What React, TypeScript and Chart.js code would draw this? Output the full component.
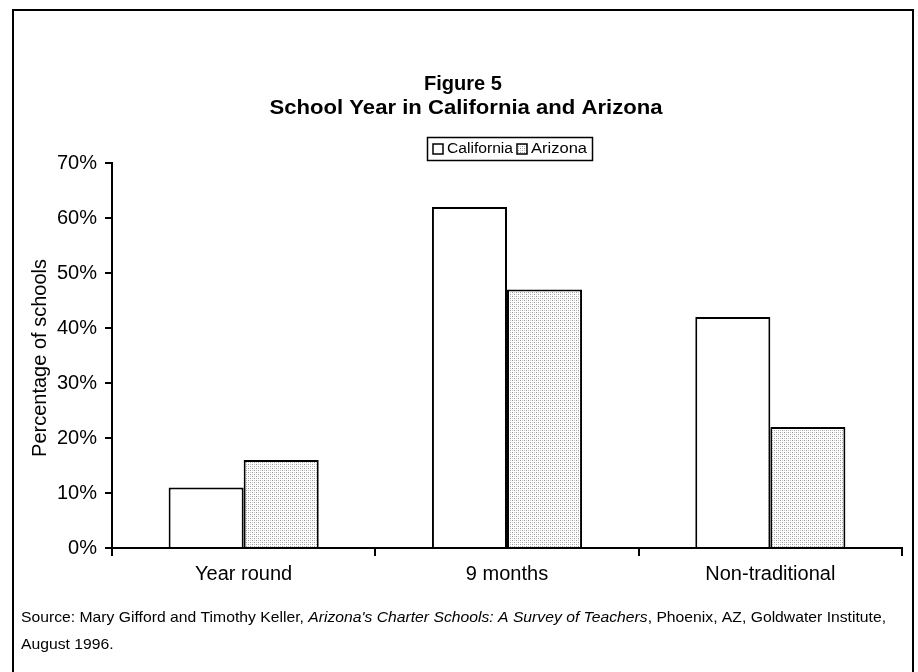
import React, { useEffect, useRef } from "react";
import { Chart, registerables } from "chart.js";

Chart.register(...registerables);

const categories = ["Year round", "9 months", "Non-traditional"];
const seriesNames = ["California", "Arizona"];
const california = [11, 62, 42];
const arizona = [16, 47, 22];
const yTicks = [0, 10, 20, 30, 40, 50, 60, 70];
const titleLines = ["Figure 5", "School Year in California and Arizona"];
const yTitle = "Percentage of schools";
const sourceParts = [
  { text: "Source: Mary Gifford and Timothy Keller, ", italic: false },
  { text: "Arizona's Charter Schools: A Survey of Teachers", italic: true },
  { text: ", Phoenix, AZ, Goldwater Institute,", italic: false },
];
const sourceLine2 = "August 1996.";

const FONT = "'Liberation Sans', Arial, sans-serif";

function makePattern(): CanvasPattern | string {
  const c = document.createElement("canvas");
  c.width = 4;
  c.height = 4;
  const g = c.getContext("2d");
  if (!g) return "#dddddd";
  g.fillStyle = "#ffffff";
  g.fillRect(0, 0, 4, 4);
  g.fillStyle = "#9a9a9a";
  g.fillRect(0, 0, 1, 1);
  g.fillRect(2, 2, 1, 1);
  g.fillStyle = "#c8c8c8";
  g.fillRect(2, 0, 1, 1);
  g.fillRect(0, 2, 1, 1);
  const p = g.createPattern(c, "repeat");
  return p || "#dddddd";
}

function fitText(ctx: CanvasRenderingContext2D, text: string, cx: number, cy: number, w: number) {
  const m = ctx.measureText(text).width;
  ctx.save();
  ctx.translate(cx, cy);
  ctx.scale(w / m, 1);
  ctx.textAlign = "center";
  ctx.fillText(text, 0, 0);
  ctx.restore();
}

export default function App() {
  const ref = useRef<HTMLCanvasElement | null>(null);

  useEffect(() => {
    const canvas = ref.current;
    if (!canvas) return;
    const azFill = makePattern();

    const decor = {
      id: "decor",
      afterDraw(chart: any) {
        const ctx = chart.ctx as CanvasRenderingContext2D;
        ctx.save();
        // border
        ctx.strokeStyle = "#000";
        ctx.lineWidth = 2;
        ctx.beginPath();
        ctx.moveTo(13, 672);
        ctx.lineTo(13, 10);
        ctx.lineTo(913, 10);
        ctx.lineTo(913, 672);
        ctx.stroke();

        // title
        ctx.fillStyle = "#000";
        ctx.textBaseline = "middle";
        ctx.font = `bold 21px ${FONT}`;
        fitText(ctx, titleLines[0], 463, 84, 78);
        fitText(ctx, titleLines[1], 466, 108, 393);

        // legend
        ctx.lineWidth = 1.5;
        ctx.strokeRect(427.5, 137.5, 165, 23);
        ctx.font = `14px ${FONT}`;
        ctx.textAlign = "left";
        const fills = ["#ffffff", azFill];
        const xs = [433, 517];
        const ws = [66, 56];
        for (let i = 0; i < seriesNames.length; i++) {
          ctx.fillStyle = fills[i] as any;
          ctx.fillRect(xs[i], 144, 10, 10);
          ctx.strokeStyle = "#000";
          ctx.lineWidth = 1.5;
          ctx.strokeRect(xs[i], 144, 10, 10);
          ctx.fillStyle = "#000";
          fitText(ctx, seriesNames[i], xs[i] + 14 + ws[i] / 2, 149.5, ws[i]);
        }

        // y title
        ctx.save();
        ctx.translate(40, 358);
        ctx.rotate(-Math.PI / 2);
        ctx.textAlign = "center";
        ctx.font = `20px ${FONT}`;
        ctx.fillText(yTitle, 0, 0);
        ctx.restore();

        // source
        ctx.textAlign = "left";
        ctx.textBaseline = "middle";
        let total = 0;
        for (const p of sourceParts) {
          ctx.font = `${p.italic ? "italic " : ""}15px ${FONT}`;
          total += ctx.measureText(p.text).width;
        }
        const targetW = 865;
        const sx = targetW / total;
        ctx.save();
        ctx.translate(21, 618);
        ctx.scale(sx, 1);
        let x = 0;
        for (const p of sourceParts) {
          ctx.font = `${p.italic ? "italic " : ""}15px ${FONT}`;
          ctx.fillText(p.text, x, 0);
          x += ctx.measureText(p.text).width;
        }
        ctx.restore();
        ctx.save();
        ctx.translate(21, 645);
        ctx.scale(sx, 1);
        ctx.font = `15px ${FONT}`;
        ctx.fillText(sourceLine2, 0, 0);
        ctx.restore();

        ctx.restore();
      },
    };

    const chart = new Chart(canvas, {
      type: "bar",
      data: {
        labels: categories,
        datasets: [
          {
            label: seriesNames[0],
            data: california,
            backgroundColor: "#ffffff",
            borderColor: "#000",
            borderWidth: 2,
            categoryPercentage: 0.57,
            barPercentage: 1.0,
          },
          {
            label: seriesNames[1],
            data: arizona,
            backgroundColor: azFill as any,
            borderColor: "#000",
            borderWidth: 2,
            categoryPercentage: 0.57,
            barPercentage: 1.0,
          },
        ],
      },
      options: {
        responsive: false,
        animation: false,
        devicePixelRatio: 1,
        layout: { padding: { top: 163, right: 16, bottom: 0, left: 0 } },
        plugins: {
          legend: { display: false },
          title: { display: false },
          tooltip: { enabled: false },
        },
        scales: {
          x: {
            afterFit: (s: any) => {
              s.height = 124;
            },
            grid: {
              display: true,
              drawOnChartArea: false,
              drawTicks: true,
              offset: true,
              tickLength: 8,
              color: "#000",
              lineWidth: 2,
            },
            border: { display: true, color: "#000", width: 2 },
            ticks: {
              color: "#000",
              font: { family: FONT, size: 20 },
              padding: 6,
            },
          },
          y: {
            min: 0,
            max: 70,
            afterFit: (s: any) => {
              s.width = 112;
            },
            afterBuildTicks: (s: any) => {
              s.ticks = yTicks.map((v) => ({ value: v }));
            },
            grid: {
              display: true,
              drawOnChartArea: false,
              drawTicks: true,
              tickLength: 7,
              color: "#000",
              lineWidth: 2,
            },
            border: { display: true, color: "#000", width: 2 },
            ticks: {
              color: "#000",
              font: { family: FONT, size: 20 },
              padding: 8,
              callback: (v: any) => `${v}%`,
            },
          },
        },
      },
      plugins: [decor],
    });

    return () => chart.destroy();
  }, []);

  return (
    <div style={{ position: "absolute", left: 0, top: 0, width: 918, height: 672, background: "#fff" }}>
      <canvas ref={ref} width={918} height={672} />
    </div>
  );
}
